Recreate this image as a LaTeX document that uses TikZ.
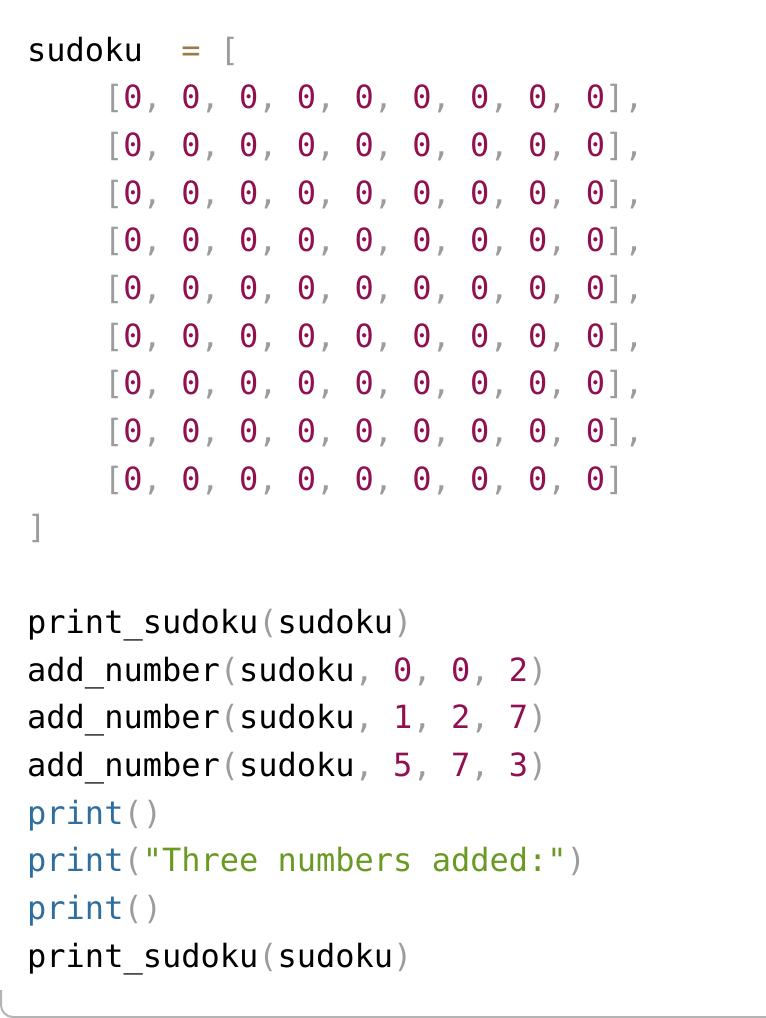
\documentclass[tikz,border=0pt]{standalone}
\usepackage{fontspec}
\newfontfamily\codefont{DejaVu Sans Mono}
\definecolor{numcol}{HTML}{901050}
\definecolor{puncol}{HTML}{9C9C9C}
\definecolor{opcol}{HTML}{9A7B4B}
\definecolor{fncol}{HTML}{2F6F9F}
\definecolor{strcol}{HTML}{6A9A23}
\definecolor{edgecol}{HTML}{B4B4B4}
\newcommand{\nm}[1]{\textcolor{numcol}{#1}}
\newcommand{\pu}[1]{\textcolor{puncol}{#1}}
\newcommand{\zerorow}{\pu{[}\nm{0}\pu{,} \nm{0}\pu{,} \nm{0}\pu{,} \nm{0}\pu{,} \nm{0}\pu{,} \nm{0}\pu{,} \nm{0}\pu{,} \nm{0}\pu{,} \nm{0}\pu{]}}

\begin{document}
\begin{tikzpicture}[x=1pt, y=-1pt,
  codeline/.style={anchor=base west, inner sep=0pt, font=\codefont\fontsize{32}{47.7}\selectfont},
  border/.style={draw=edgecol, line width=2pt, rounded corners=12pt}]
  \useasboundingbox (0,0) rectangle (766,1018);
  % box edge
  \draw[border] (1,990) -- (1,1017) -- (790,1017);
  % the list
  \node[codeline] (decl) at (27,61) {sudoku\ \ \textcolor{opcol}{=} \pu{[}};
  \foreach \r in {1,...,8}
    \node[codeline] (row\r) at (104,61+47.7*\r) {\zerorow\pu{,}};
  \node[codeline] (row9) at (104,61+47.7*9) {\zerorow};
  \node[codeline] (close) at (27,61+47.7*10) {\pu{]}};
  % the calls
  \node[codeline] (show1) at (27,61+47.7*12) {print\_sudoku\pu{(}sudoku\pu{)}};
  \node[codeline] (add1) at (27,61+47.7*13) {add\_number\pu{(}sudoku\pu{,} \nm{0}\pu{,} \nm{0}\pu{,} \nm{2}\pu{)}};
  \node[codeline] (add2) at (27,61+47.7*14) {add\_number\pu{(}sudoku\pu{,} \nm{1}\pu{,} \nm{2}\pu{,} \nm{7}\pu{)}};
  \node[codeline] (add3) at (27,61+47.7*15) {add\_number\pu{(}sudoku\pu{,} \nm{5}\pu{,} \nm{7}\pu{,} \nm{3}\pu{)}};
  \node[codeline] (blank1) at (27,61+47.7*16) {\textcolor{fncol}{print}\pu{()}};
  \node[codeline] (msg) at (27,61+47.7*17) {\textcolor{fncol}{print}\pu{(}\textcolor{strcol}{"Three numbers added:"}\pu{)}};
  \node[codeline] (blank2) at (27,61+47.7*18) {\textcolor{fncol}{print}\pu{()}};
  \node[codeline] (show2) at (27,61+47.7*19) {print\_sudoku\pu{(}sudoku\pu{)}};
\end{tikzpicture}
\end{document}
